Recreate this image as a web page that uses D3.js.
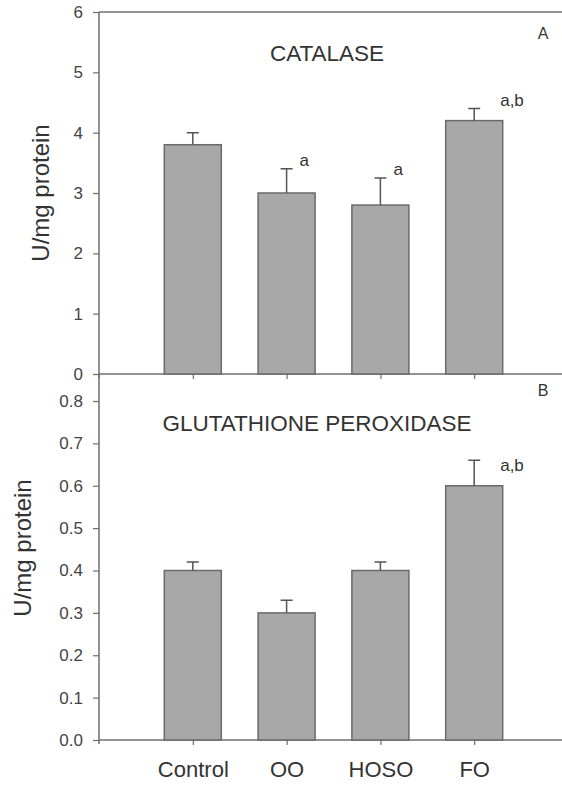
<!DOCTYPE html>
<html>
<head>
<meta charset="utf-8">
<script src="https://cdn.jsdelivr.net/npm/d3@7"></script>
<style>
  body { margin: 0; background: #fff; }
  svg { display: block; font-family: "Liberation Sans", Arial, sans-serif; }
</style>
</head>
<body>
<div id="chart"></div>
<script>
// Data
const categories = ['Control', 'OO', 'HOSO', 'FO'];

const catalaseMean = [3.8, 3.0, 2.8, 4.2];
const catalaseErr = [0.2, 0.4, 0.45, 0.2];
const catalaseSig = ['', 'a', 'a', 'a,b'];
const catalaseTicks = [0, 1, 2, 3, 4, 5, 6];

const gpxMean = [0.40, 0.30, 0.40, 0.60];
const gpxErr = [0.02, 0.03, 0.02, 0.06];
const gpxSig = ['', '', '', 'a,b'];
const gpxTicks = [0, 0.1, 0.2, 0.3, 0.4, 0.5, 0.6, 0.7, 0.8];

const width = 562;
const height = 785;
const axisX = 99;

const svg = d3.select('#chart')
  .append('svg')
  .attr('width', width)
  .attr('height', height);

// shared x positions: bars sit at 1..4
const x = d3.scaleLinear().domain([0, 5]).range([axisX, 568]);
const barW = 57;

const axisColor = '#6e6e6e';
const textColor = '#333';

function panel(opts) {
  const g = svg.append('g');
  const y = opts.y;

  // frame lines
  g.append('line')
    .attr('x1', axisX).attr('x2', axisX)
    .attr('y1', opts.top).attr('y2', y(0) + 4)
    .attr('stroke', axisColor).attr('stroke-width', 1.5);
  g.append('line')
    .attr('x1', axisX).attr('x2', width)
    .attr('y1', y(0)).attr('y2', y(0))
    .attr('stroke', axisColor).attr('stroke-width', 1.5);
  if (opts.topLine) {
    g.append('line')
      .attr('x1', axisX).attr('x2', width)
      .attr('y1', opts.top).attr('y2', opts.top)
      .attr('stroke', axisColor).attr('stroke-width', 1.5);
  }

  // y axis ticks + labels
  const yAxis = d3.axisLeft(y)
    .tickValues(opts.ticks)
    .tickSize(6)
    .tickPadding(10)
    .tickFormat(opts.fmt);
  const ya = g.append('g')
    .attr('transform', `translate(${axisX},0)`)
    .call(yAxis);
  ya.select('.domain').remove();
  ya.selectAll('line').attr('stroke', axisColor).attr('stroke-width', 1.2);
  ya.selectAll('text')
    .attr('fill', '#444')
    .attr('font-size', '17px')
    .attr('font-family', '"Liberation Sans", Arial, sans-serif');

  // x ticks under bars
  const xAxis = d3.axisBottom(x)
    .tickValues([1, 2, 3, 4])
    .tickSize(5)
    .tickPadding(16)
    .tickFormat(d => opts.showLabels ? categories[d - 1] : '');
  const xa = g.append('g')
    .attr('transform', `translate(0,${y(0)})`)
    .call(xAxis);
  xa.select('.domain').remove();
  xa.selectAll('line').attr('stroke', axisColor).attr('stroke-width', 1.2);
  xa.selectAll('text')
    .attr('fill', textColor)
    .attr('font-size', '22px')
    .attr('font-family', '"Liberation Sans", Arial, sans-serif');

  // bars
  const rows = categories.map((c, i) => ({
    i: i + 1, mean: opts.mean[i], err: opts.err[i], sig: opts.sig[i]
  }));

  g.selectAll('.bar')
    .data(rows)
    .enter()
    .append('rect')
    .attr('class', 'bar')
    .attr('x', d => x(d.i) - barW / 2)
    .attr('y', d => y(d.mean))
    .attr('width', barW)
    .attr('height', d => y(0) - y(d.mean))
    .attr('fill', '#a8a8a8')
    .attr('stroke', '#6a6a6a')
    .attr('stroke-width', 1.5);

  // upper error bars only
  g.selectAll('.err')
    .data(rows)
    .enter()
    .append('path')
    .attr('class', 'err')
    .attr('d', d => {
      const cx = x(d.i), y0 = y(d.mean), y1 = y(d.mean + d.err);
      return `M${cx},${y0}V${y1}M${cx - 6},${y1}H${cx + 6}`;
    })
    .attr('fill', 'none')
    .attr('stroke', '#555')
    .attr('stroke-width', 1.5);

  // significance letters
  g.selectAll('.sig')
    .data(rows.filter(d => d.sig))
    .enter()
    .append('text')
    .attr('class', 'sig')
    .attr('x', d => x(d.i) + (d.sig.length > 1 ? 26 : 13))
    .attr('y', d => y(d.mean + d.err) + opts.sigDy)
    .attr('fill', textColor)
    .attr('font-size', '17px')
    .text(d => d.sig);

  // title
  g.append('text')
    .attr('x', opts.titleX)
    .attr('y', opts.titleY)
    .attr('text-anchor', 'middle')
    .attr('fill', textColor)
    .attr('font-size', '22.5px')
    .text(opts.title);

  // panel letter
  g.append('text')
    .attr('x', 543)
    .attr('y', opts.letterY)
    .attr('text-anchor', 'middle')
    .attr('fill', textColor)
    .attr('font-size', '16px')
    .text(opts.letter);

  // y label
  g.append('text')
    .attr('transform', `translate(${opts.labelX},${(opts.top + y(0)) / 2 + opts.labelDy}) rotate(-90)`)
    .attr('text-anchor', 'middle')
    .attr('fill', textColor)
    .attr('font-size', '24px')
    .text('U/mg protein');
}

panel({
  y: d3.scaleLinear().domain([0, 6]).range([374, 12]),
  top: 12,
  topLine: true,
  ticks: catalaseTicks,
  fmt: d3.format('d'),
  mean: catalaseMean,
  err: catalaseErr,
  sig: catalaseSig,
  sigDy: -3,
  title: 'CATALASE',
  titleX: 327,
  titleY: 61,
  letter: 'A',
  letterY: 39,
  labelX: 49,
  labelDy: 0,
  showLabels: false
});

panel({
  y: d3.scaleLinear().domain([0, 0.8]).range([740, 401]),
  top: 374,
  topLine: false,
  ticks: gpxTicks,
  fmt: d3.format('.1f'),
  mean: gpxMean,
  err: gpxErr,
  sig: gpxSig,
  sigDy: 11,
  title: 'GLUTATHIONE PEROXIDASE',
  titleX: 317,
  titleY: 431,
  letter: 'B',
  letterY: 396,
  labelX: 31,
  labelDy: -9,
  showLabels: true
});
</script>
</body>
</html>
